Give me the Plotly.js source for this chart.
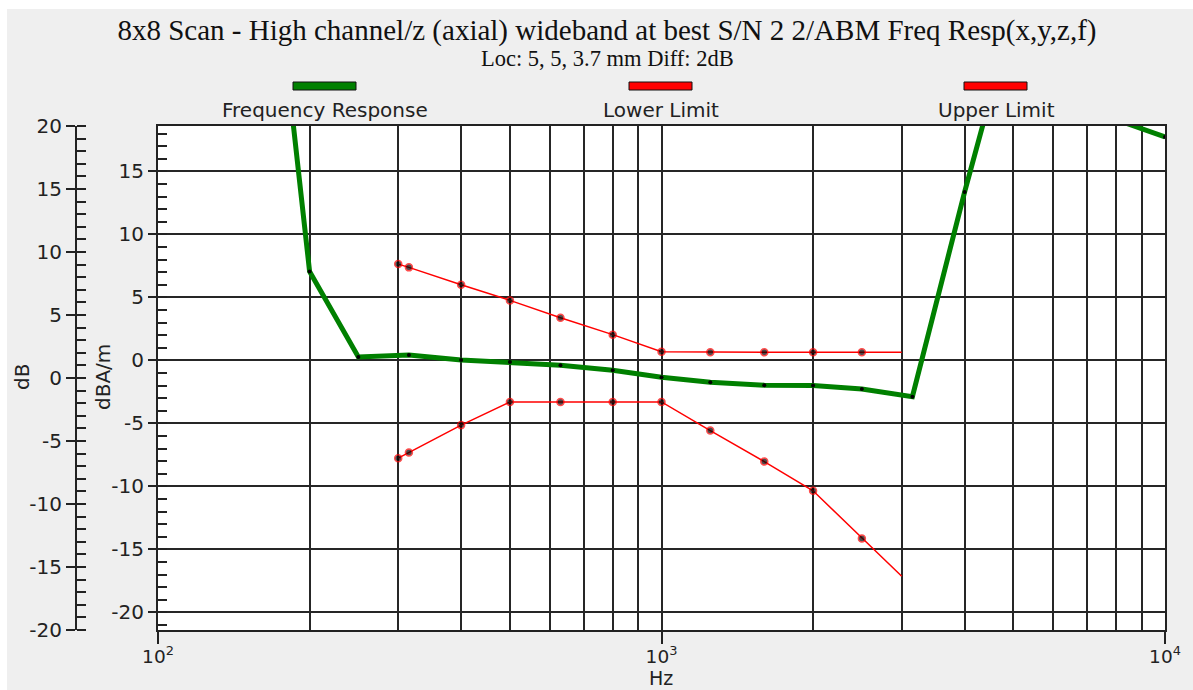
<!DOCTYPE html>
<html>
<head>
<meta charset="utf-8">
<script src="https://cdn.plot.ly/plotly-3.0.1.min.js"></script>
<style>
  html, body { margin: 0; padding: 0; background: #ffffff; }
  #bg { position: absolute; left: 7px; top: 9px; width: 1186px; height: 681px; background: #efefef; }
  #chart { position: absolute; left: 0; top: 0; width: 1193px; height: 690px; }
</style>
</head>
<body>
<div id="bg"></div>
<div id="chart"></div>
<script>
// ---- Data ----
const respFreqs  = [160, 200, 250, 315, 400, 500, 630, 800, 1000, 1250, 1600, 2000, 2500, 3150, 4000, 5000, 6300, 8000, 10000];
const respValues = [42, 7.06, 0.27, 0.43, 0.03, -0.13, -0.39, -0.78, -1.34, -1.74, -1.97, -2.0, -2.27, -2.88, 13.37, 27.6, 24, 19.1, 17.73];

const limitFreqs  = [300, 315, 400, 500, 630, 800, 1000, 1250, 1600, 2000, 2500, 3000];
const lowerValues = [-7.76, -7.31, -5.14, -3.3, -3.3, -3.3, -3.3, -5.57, -8.03, -10.35, -14.13, -17.14];
const upperValues = [7.64, 7.38, 6.0, 4.76, 3.38, 2.04, 0.69, 0.64, 0.64, 0.64, 0.64, 0.64];

const xTickVals  = [100, 1000, 10000];
const xTickText  = ['10<sup>2</sup>', '10<sup>3</sup>', '10<sup>4</sup>'];
const xMinorVals = [200, 300, 400, 500, 600, 700, 800, 900, 2000, 3000, 4000, 5000, 6000, 7000, 8000, 9000];

const innerTickVals = [-20, -15, -10, -5, 0, 5, 10, 15];
const innerTickText = ['-20', '-15', '-10', '-5', '0', '5', '10', '15'];
const outerTickVals = [-20, -15, -10, -5, 0, 5, 10, 15, 20];
const outerTickText = ['-20', '-15', '-10', '-5', '0', '5', '10', '15', '20'];

const seriesNames = ['Frequency Response', 'Lower Limit', 'Upper Limit'];
const titleText = '8x8 Scan - High channel/z (axial) wideband at best S/N 2 2/ABM Freq Resp(x,y,z,f)';
const subtitleText = 'Loc: 5, 5, 3.7 mm Diff: 2dB';

// ---- Layout geometry ----
const W = 1193, H = 690;
const M = { l: 40, r: 28, t: 126, b: 60 };
const plotW = W - M.l - M.r, plotH = H - M.t - M.b;
const px = x => (x - M.l) / plotW;
const py = y => (H - M.b - y) / plotH;

const GREEN = '#008000', RED = '#ff0000', INK = '#222222', GRID = '#262626';
const sansFont = 'DejaVu Sans, Verdana, sans-serif';
const serifFont = 'Liberation Serif, Times New Roman, serif';

const lastNoMarker = arr => arr.map((v, i) => i === arr.length - 1 ? 0 : 7);

const traces = [
  {
    x: respFreqs, y: respValues, type: 'scatter', mode: 'lines+markers',
    name: seriesNames[0], showlegend: false,
    line: { color: GREEN, width: 5 },
    marker: { color: '#000', size: 4 },
    hoverinfo: 'x+y'
  },
  {
    x: limitFreqs, y: lowerValues, type: 'scatter', mode: 'lines+markers',
    name: seriesNames[1], showlegend: false,
    line: { color: RED, width: 1.5 },
    marker: { color: '#000', size: lastNoMarker(limitFreqs), line: { color: RED, width: 1.5 } },
    hoverinfo: 'x+y'
  },
  {
    x: limitFreqs, y: upperValues, type: 'scatter', mode: 'lines+markers',
    name: seriesNames[2], showlegend: false,
    line: { color: RED, width: 1.5 },
    marker: { color: '#000', size: lastNoMarker(limitFreqs), line: { color: RED, width: 1.5 } },
    hoverinfo: 'x+y'
  },
  // empty helper traces so the extra overlay axes are instantiated
  { x: [], y: [], type: 'scatter', yaxis: 'y2', showlegend: false, hoverinfo: 'skip' },
  { x: [], y: [], type: 'scatter', yaxis: 'y3', showlegend: false, hoverinfo: 'skip' }
];

// legend drawn with shapes + annotations (swatch above text)
const legendCenters = [325, 661, 996];
const legendColors = [GREEN, RED, RED];
const shapes = legendCenters.map((c, i) => ({
  type: 'rect', xref: 'paper', yref: 'paper',
  x0: px(c - 32), x1: px(c + 31), y0: py(90), y1: py(82),
  fillcolor: legendColors[i], line: { color: '#111', width: 1 }
}));

const annotations = legendCenters.map((c, i) => ({
  xref: 'paper', yref: 'paper', x: px(c), y: py(110),
  text: seriesNames[i], showarrow: false, xanchor: 'center', yanchor: 'middle',
  font: { family: sansFont, size: 20, color: INK }
}));
annotations.push(
  { xref: 'paper', yref: 'paper', x: px(607), y: py(58), text: subtitleText, showarrow: false,
    xanchor: 'center', yanchor: 'middle', font: { family: serifFont, size: 22.5, color: '#111' } },
  { xref: 'paper', yref: 'paper', x: px(22), y: py(377), text: 'dB', textangle: -90, showarrow: false,
    xanchor: 'center', yanchor: 'middle', font: { family: sansFont, size: 20, color: INK } },
  { xref: 'paper', yref: 'paper', x: px(103), y: py(377), text: 'dBA/m', textangle: -90, showarrow: false,
    xanchor: 'center', yanchor: 'middle', font: { family: sansFont, size: 20, color: INK } },
  { xref: 'paper', yref: 'paper', x: px(661), y: py(678), text: 'Hz', showarrow: false,
    xanchor: 'center', yanchor: 'middle', font: { family: sansFont, size: 19, color: INK } }
);

const outerPos = px(76);
const tickFont = { family: sansFont, size: 20, color: INK };

const layout = {
  width: W, height: H, margin: M,
  paper_bgcolor: 'rgba(0,0,0,0)', plot_bgcolor: '#ffffff',
  showlegend: false,
  title: {
    text: titleText, xref: 'container', yref: 'container', x: 607 / W, y: 1 - 30 / H,
    xanchor: 'center', yanchor: 'middle',
    font: { family: serifFont, size: 29, color: '#111' }
  },
  xaxis: {
    type: 'log', range: [2, 4], domain: [px(158), 1],
    tickmode: 'array', tickvals: xTickVals, ticktext: xTickText,
    ticks: 'outside', ticklen: 12, tickwidth: 2, tickcolor: INK,
    ticklabelstandoff: -3,
    showline: true, linecolor: INK, linewidth: 2, mirror: true,
    showgrid: true, gridcolor: GRID, gridwidth: 2,
    minor: { tickmode: 'array', tickvals: xMinorVals, showgrid: true, gridcolor: GRID, gridwidth: 2, ticks: '' },
    zeroline: false,
    tickfont: { family: sansFont, size: 18.5, color: INK }
  },
  yaxis: {
    range: [-21.4, 18.6], anchor: 'x',
    tickmode: 'array', tickvals: innerTickVals, ticktext: innerTickText,
    ticks: 'outside', ticklen: 8, tickwidth: 2, tickcolor: INK,
    showline: true, linecolor: INK, linewidth: 2, mirror: true,
    showgrid: true, gridcolor: GRID, gridwidth: 2, zeroline: false,
    minor: { tickmode: 'linear', tick0: 0, dtick: 1, ticks: 'inside', ticklen: 9, tickwidth: 2, tickcolor: INK, showgrid: false },
    tickfont: tickFont
  },
  yaxis2: {
    range: [-20, 20], overlaying: 'y', anchor: 'free', position: outerPos, side: 'left',
    tickmode: 'array', tickvals: outerTickVals, ticktext: outerTickText,
    ticks: 'outside', ticklen: 9, tickwidth: 2, tickcolor: INK,
    showline: true, linecolor: INK, linewidth: 2,
    showgrid: false, zeroline: false,
    minor: { tickmode: 'linear', tick0: 0, dtick: 1, ticks: 'inside', ticklen: 9, tickwidth: 2, tickcolor: INK, showgrid: false },
    tickfont: tickFont
  },
  yaxis3: {
    range: [-20, 20], overlaying: 'y', anchor: 'free', position: outerPos, side: 'left',
    tickmode: 'array', tickvals: outerTickVals,
    ticks: 'inside', ticklen: 9, tickwidth: 2, tickcolor: INK,
    showline: false, showgrid: false, zeroline: false, showticklabels: false
  },
  shapes: shapes,
  annotations: annotations
};

Plotly.newPlot('chart', traces, layout, { displayModeBar: false, staticPlot: true });
</script>
</body>
</html>
